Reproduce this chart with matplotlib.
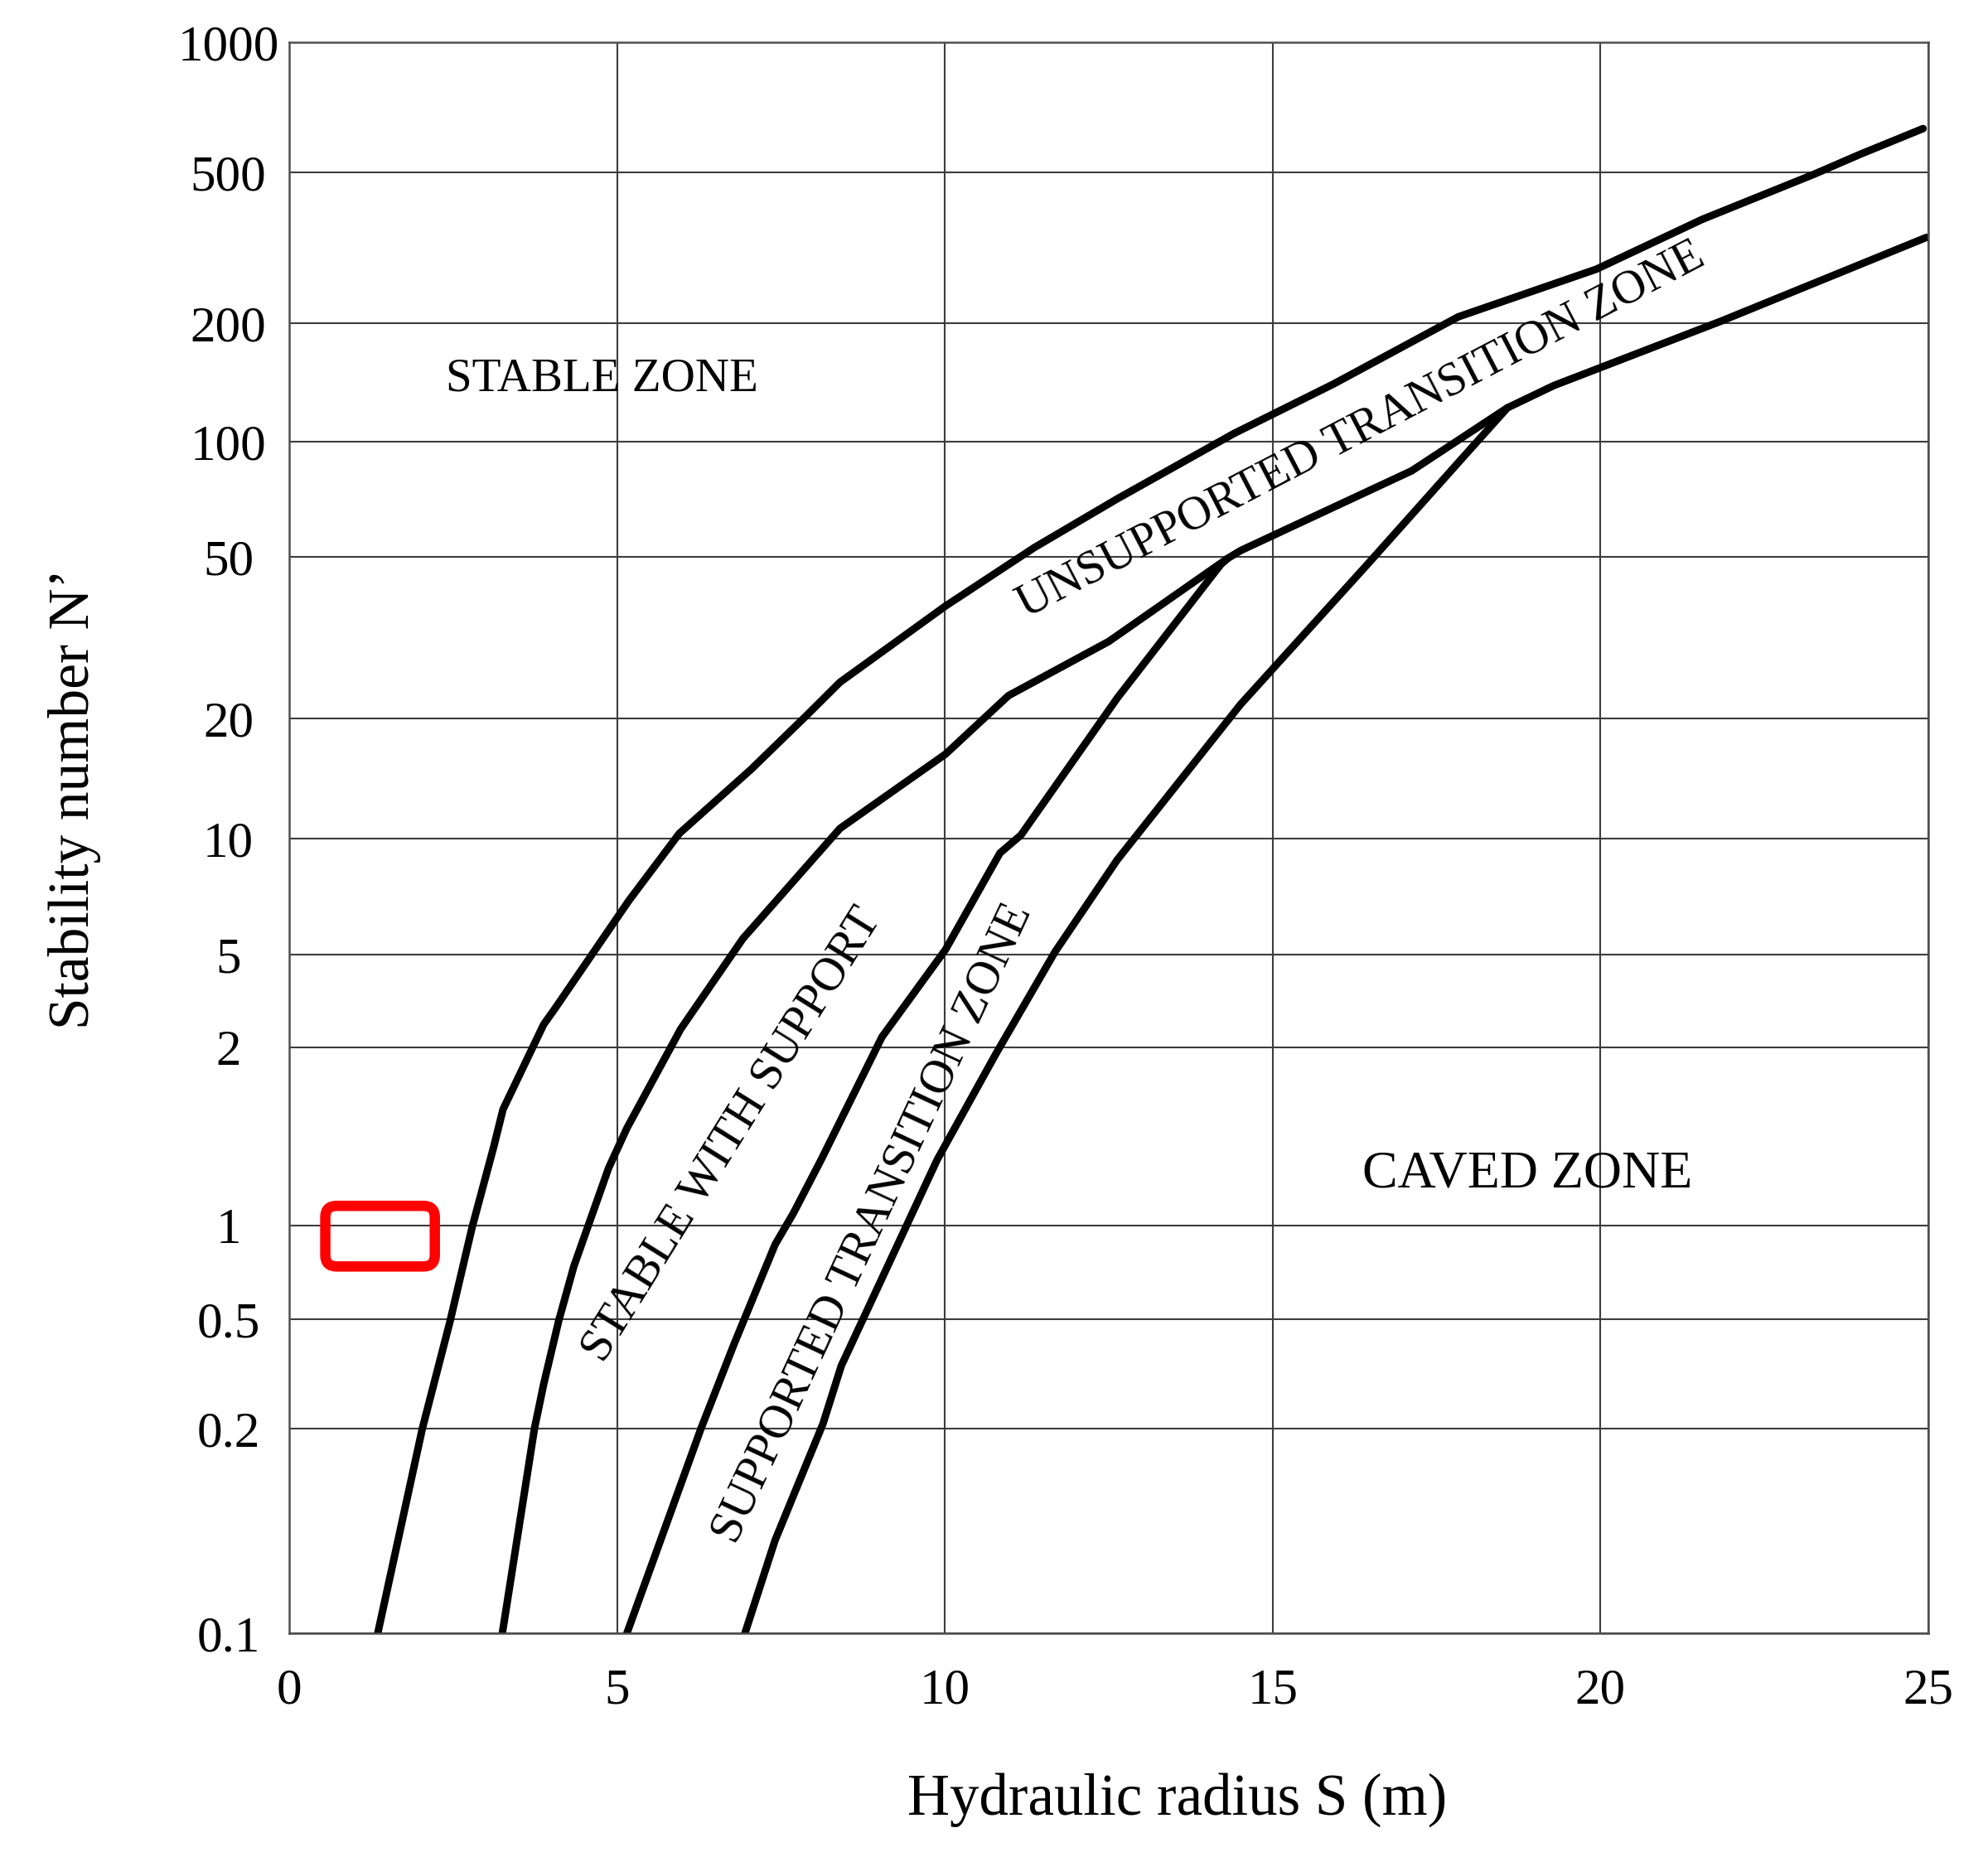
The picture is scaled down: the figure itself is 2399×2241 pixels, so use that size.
import numpy as np
import matplotlib
matplotlib.use("Agg")
import matplotlib.pyplot as plt
from matplotlib.patches import FancyBboxPatch
from matplotlib.ticker import NullLocator

plt.rcParams['font.family'] = ['Liberation Serif', 'DejaVu Serif']

# boundary lines: hydraulic radius S (m) vs stability number N'
S_upper = [1.35, 2.03, 2.45, 2.79, 3.12, 3.26, 3.88, 4.05, 5.18, 5.95, 7.04, 7.88, 8.40,
           10.01, 11.36, 12.63, 14.41, 15.92, 17.83, 19.94, 21.55, 23.26, 23.96, 24.92]
N_upper = [0.1, 0.2, 0.49, 0.99, 1.36, 1.57, 2.5, 2.92, 6.9, 10.3, 14.9, 20.3, 24.6,
           37.9, 52.9, 71, 105, 140, 208, 278, 376, 495, 551, 632]

S_support = [3.25, 3.74, 3.88, 4.11, 4.34, 4.87, 5.15, 5.97, 6.92, 8.40, 10.01, 10.97,
             12.50, 14.31, 14.51, 17.12, 18.58, 19.29, 21.85, 24.97]
N_support = [0.1, 0.2, 0.29, 0.495, 0.74, 1.25, 1.46, 2.39, 5.5, 10.6, 16.3, 22.8,
             31.0, 49.6, 52.0, 84, 122, 139, 203, 337]

S_trans = [5.15, 6.28, 6.79, 7.41, 7.69, 8.11, 9.04, 10.01, 10.84, 11.16, 12.63, 14.21, 14.31]
N_trans = [0.1, 0.2, 0.41, 0.87, 1.05, 1.29, 2.21, 5.15, 9.17, 10.2, 22.5, 48.0, 49.6]

S_caved = [6.95, 7.41, 8.14, 8.42, 9.88, 10.78, 11.68, 12.63, 14.51, 16.42, 17.93, 18.58]
N_caved = [0.1, 0.137, 0.208, 0.339, 1.29, 1.95, 5.08, 8.81, 21.7, 47.5, 92.2, 122]

# highlighted box (S range, N' range)
box_S = [0.55, 2.22]
box_N = [0.74, 1.08]

x_ticks = [0, 5, 10, 15, 20, 25]
y_ticks = [0.1, 0.2, 0.5, 1, 2, 5, 10, 20, 50, 100, 200, 500, 1000]
y_labels = ['0.1', '0.2', '0.5', '1', '2', '5', '10', '20', '50', '100', '200', '500', '1000']

# the printed chart spaces its y ticks unevenly: fraction of axis height per tick
y_tick_pos = [0, 0.1287, 0.1972, 0.2562, 0.3685, 0.4267, 0.4996, 0.5749,
              0.6765, 0.7490, 0.8235, 0.9183, 1.0]
log_ticks = np.log10(y_ticks)


def forward(y):
    y = np.clip(np.asarray(y, dtype=float), 1e-9, None)
    return np.interp(np.log10(y), log_ticks, y_tick_pos)


def inverse(p):
    return 10 ** np.interp(np.asarray(p, dtype=float), y_tick_pos, log_ticks)


fig = plt.figure(figsize=(23.99, 22.41), dpi=100)
ax = fig.add_axes([0.1455, 0.1205, 0.8245, 0.8566])
ax.set_yscale('function', functions=(forward, inverse))
ax.set_xlim(0, 25)
ax.set_ylim(0.1, 1000)

ax.set_xticks(x_ticks)
ax.set_xticklabels([str(v) for v in x_ticks])
ax.set_yticks(y_ticks)
ax.set_yticklabels(y_labels, ha='center')
ax.yaxis.set_minor_locator(NullLocator())
ax.xaxis.set_minor_locator(NullLocator())
ax.tick_params(axis='both', length=0, labelsize=44)
ax.tick_params(axis='y', pad=53)
ax.tick_params(axis='x', pad=30)

ax.grid(True, color='#3c3c3c', linewidth=1.5)
ax.set_axisbelow(True)
for sp in ax.spines.values():
    sp.set_color('#505050')
    sp.set_linewidth(1.8)

line_kw = dict(color='black', linewidth=6.5, solid_capstyle='round', solid_joinstyle='round')
ax.plot(S_upper, N_upper, **line_kw)
ax.plot(S_support, N_support, **line_kw)
ax.plot(S_trans, N_trans, **line_kw)
ax.plot(S_caved, N_caved, **line_kw)

txt_kw = dict(ha='center', va='center', rotation_mode='anchor')
ax.text(4.77, 144, 'STABLE ZONE', fontsize=41, **txt_kw)
ax.text(18.88, 1.22, 'CAVED ZONE', fontsize=46, **txt_kw)
ax.text(16.35, 107, 'UNSUPPORTED TRANSITION ZONE', fontsize=41, rotation=27.5, **txt_kw)
ax.text(6.76, 1.42, 'STABLE WITH SUPPORT', fontsize=41, rotation=58, **txt_kw)
ax.text(8.90, 1.01, 'SUPPORTED TRANSITION ZONE', fontsize=41, rotation=65, **txt_kw)

ax.set_xlabel('Hydraulic radius S (m)', fontsize=51, va='center')
ax.xaxis.set_label_coords(0.542, -0.105)
ax.set_ylabel('Stability number N\u2019', fontsize=50, va='center')
ax.yaxis.set_label_coords(-0.131, 0.5245)

# red rounded box drawn in axes fraction from its data extent
corners = ax.transAxes.inverted().transform(
    ax.transData.transform(np.column_stack([box_S, box_N])))
(bx0, by0), (bx1, by1) = corners
box = FancyBboxPatch((bx0, by0), bx1 - bx0, by1 - by0,
                     boxstyle='round,pad=0,rounding_size=0.007',
                     transform=ax.transAxes, fill=False,
                     edgecolor='#ff0000', linewidth=9, clip_on=False, zorder=5)
ax.add_patch(box)

fig.savefig('out.png', dpi=100, facecolor='white')
